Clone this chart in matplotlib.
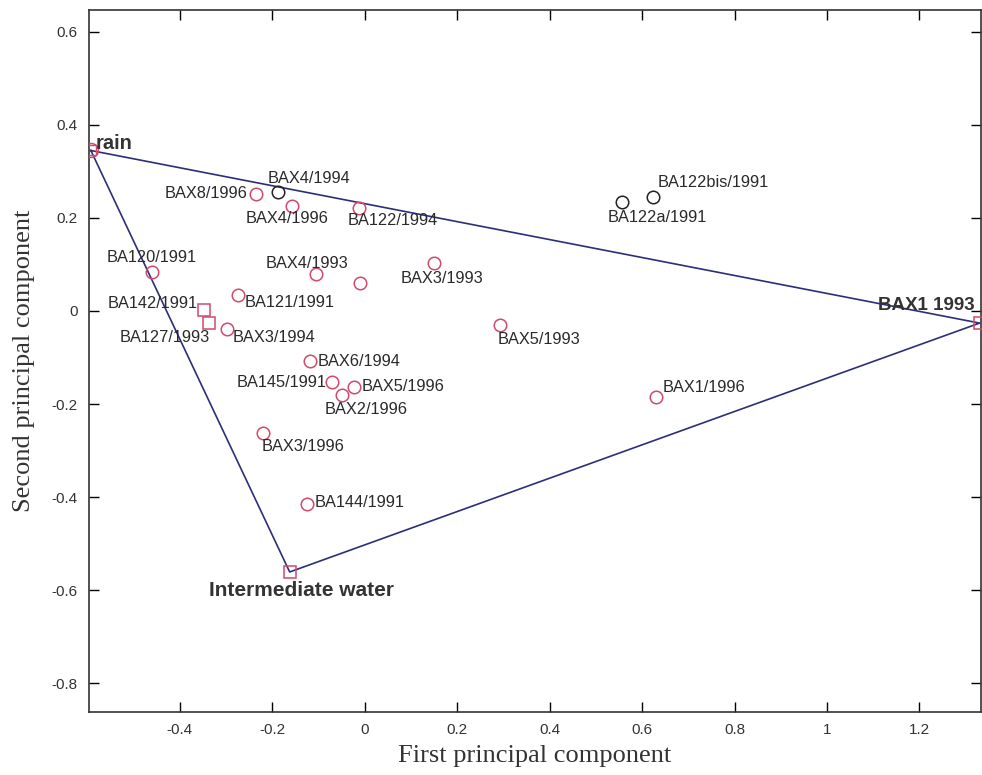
import matplotlib.pyplot as plt

# sample scores on the first two principal components
names = ["BAX8/1996", "BAX4/1994", "BAX4/1996", "BA122/1994", "BA120/1991",
         "BAX4/1993", "", "BAX3/1993", "BA121/1991", "BA142/1991",
         "BA127/1993", "BAX3/1994", "BAX6/1994", "BA145/1991", "BAX5/1996",
         "BAX2/1996", "BAX3/1996", "BA144/1991", "BAX5/1993", "BAX1/1996",
         "BA122a/1991", "BA122bis/1991"]
pc1 = [-0.235, -0.188, -0.158, -0.013, -0.460,
       -0.106, -0.009, 0.151, -0.274, -0.348,
       -0.337, -0.298, -0.117, -0.071, -0.022,
       -0.048, -0.220, -0.125, 0.292, 0.631,
       0.557, 0.624]
pc2 = [0.252, 0.256, 0.226, 0.221, 0.084,
       0.080, 0.060, 0.103, 0.034, 0.002,
       -0.026, -0.039, -0.108, -0.153, -0.163,
       -0.181, -0.262, -0.415, -0.030, -0.185,
       0.235, 0.246]
group = ["r", "k", "r", "r", "r",
         "r", "r", "r", "r", "r",
         "r", "r", "r", "r", "r",
         "r", "r", "r", "r", "r",
         "k", "k"]

# end members of the mixing triangle
end_names = ["rain", "BAX1 1993", "Intermediate water"]
end_pc1 = [-0.592, 1.330, -0.162]
end_pc2 = [0.345, -0.026, -0.561]

# label placement (pixel offsets, alignment) and marker shapes
label_pos = [(-8, 0, "right"), (-10, 13, "left"), (-4, -13, "center"), (-11, -12, "left"),
             (0, 14, "center"), (-9, 10, "center"), (0, 0, "left"), (8, -15, "center"),
             (7, -7, "left"), (-6, 7, "right"), (1, -14, "right"), (6, -8, "left"),
             (7, 0, "left"), (-5, 0, "right"), (7, 0, "left"), (-18, -14, "left"),
             (-1, -14, "left"), (8, 2, "left"), (-2, -15, "left"), (6, 10, "left"),
             (-15, -16, "left"), (4, 14, "left")]
shapes = ["o"] * len(names)
shapes[9] = "s"
shapes[10] = "s"
end_pos = [(5, 7, "left"), (-102, 18, "left"), (12, -19, "center")]
end_size = [14.5, 13.5, 15]

red = "#d2496b"
navy = "#2c2f78"
colors = {"r": red, "k": "#222222"}

fig = plt.figure(figsize=(9.82, 7.75), dpi=100)
ax = fig.add_axes([89 / 982, 1 - 712 / 775, (981 - 89) / 982, (712 - 10) / 775])

# triangle
tx = end_pc1 + [end_pc1[0]]
ty = end_pc2 + [end_pc2[0]]
ax.plot(tx, ty, color=navy, lw=1.2, zorder=2)

for i in range(len(names)):
    ax.plot(pc1[i], pc2[i], shapes[i], ms=9 if shapes[i] == "o" else 8,
            mfc="none", mec=colors[group[i]], mew=1.1, zorder=3)
    if names[i]:
        dx, dy, ha = label_pos[i]
        ax.annotate(names[i], (pc1[i], pc2[i]), xytext=(dx, dy), textcoords="offset pixels",
                    ha=ha, va="center", fontsize=11.8, family="Liberation Sans",
                    color="#2a2a2a")

# end members
ax.plot(end_pc1[0], end_pc2[0], "o", ms=10, mfc="none", mec=red, mew=1.1, zorder=3)
ax.plot(end_pc1[0], end_pc2[0], "s", ms=7, mfc="none", mec=red, mew=1.0, zorder=3)
ax.plot(end_pc1[2], end_pc2[2], "s", ms=8, mfc="none", mec=red, mew=1.1, zorder=3)
ax.plot(end_pc1[1], end_pc2[1], "s", ms=8, mfc="none", mec=red, mew=1.1, zorder=3, clip_on=False)
for i in range(3):
    dx, dy, ha = end_pos[i]
    ax.annotate(end_names[i], (end_pc1[i], end_pc2[i]), xytext=(dx, dy),
                textcoords="offset pixels", ha=ha, va="center",
                fontsize=end_size[i], fontweight="bold",
                family="Liberation Sans", color="#333333",
                annotation_clip=False)

ax.set_xlim(-0.596, 1.333)
ax.set_ylim(-0.862, 0.647)
ax.set_xticks([-0.4, -0.2, 0, 0.2, 0.4, 0.6, 0.8, 1, 1.2])
ax.set_xticklabels(["-0.4", "-0.2", "0", "0.2", "0.4", "0.6", "0.8", "1", "1.2"])
ax.set_yticks([-0.8, -0.6, -0.4, -0.2, 0, 0.2, 0.4, 0.6])
ax.set_yticklabels(["-0.8", "-0.6", "-0.4", "-0.2", "0", "0.2", "0.4", "0.6"])
ax.tick_params(direction="in", length=7, width=1, top=True, right=True,
               labelsize=11, labelcolor="#333333", pad=8)
for lab in ax.get_xticklabels() + ax.get_yticklabels():
    lab.set_family("Liberation Sans")
for s in ax.spines.values():
    s.set_linewidth(1.2)
    s.set_color("#333333")

ax.set_xlabel("First principal component", family="Liberation Serif", fontsize=19,
              color="#333333", labelpad=6)
ax.set_ylabel("Second principal component", family="Liberation Serif", fontsize=19,
              color="#333333", labelpad=12)

fig.savefig("out.png", dpi=100)
